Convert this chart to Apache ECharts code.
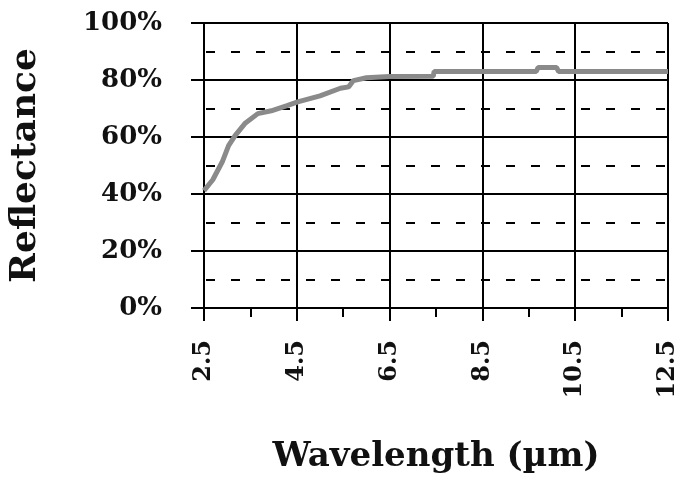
<!DOCTYPE html>
<html><head><meta charset="utf-8">
<script src="https://cdn.jsdelivr.net/npm/echarts@6/dist/echarts.min.js"></script>
<style>html,body{margin:0;padding:0;background:#fff}#c{width:680px;height:479px}</style>
</head><body><div id="c"></div>
<script>
// Wavelength (µm) and reflectance (%)
const wavelength = [2.5, 2.69, 2.9, 3.03, 3.17, 3.38, 3.66, 3.95, 4.29, 4.52, 5.0, 5.44, 5.62, 5.72, 6.0, 6.5, 7.44, 7.46, 9.66, 9.7, 10.1, 10.14, 12.5];
const reflectance = [41.2, 45, 51.5, 57, 60.5, 64.7, 68.2, 69.2, 71, 72.3, 74.4, 77.1, 77.6, 79.8, 80.8, 81.2, 81.3, 83, 83, 84.4, 84.4, 83, 83];
const xTickStart = 2.5;   // first labelled wavelength
const xTickLabels = ['2.5', '4.5', '6.5', '8.5', '10.5', '12.5'];
const yTickLabels = ['0%', '20%', '40%', '60%', '80%', '100%'];

const seriesData = wavelength.map((w, i) => [w - xTickStart, reflectance[i]]);
const font = 'DejaVu Serif';
const chart = echarts.init(document.getElementById('c'), null, {renderer: 'canvas'});
chart.setOption({
  animation: false,
  grid: {left: 198, right: 6, top: 23, bottom: 167, containLabel: false},
  xAxis: {
    type: 'value', min: 0, max: 10, interval: 2,
    name: 'Wavelength (µm)', nameLocation: 'middle', nameGap: 132,
    nameTextStyle: {fontFamily: font, fontWeight: 'bold', fontSize: 34, color: '#111'},
    axisLine: {show: true, onZero: false, lineStyle: {color: '#000', width: 2}},
    axisTick: {show: true, length: 13, lineStyle: {color: '#000', width: 2}},
    minorTick: {show: true, splitNumber: 2, length: 9, lineStyle: {color: '#000', width: 2}},
    splitLine: {show: true, lineStyle: {color: '#000', width: 2}},
    axisLabel: {rotate: 90, margin: 32, fontFamily: font, fontWeight: 'bold', fontSize: 24, color: '#111',
      formatter: v => xTickLabels[Math.round(v / 2)]}
  },
  yAxis: {
    type: 'value', min: 0, max: 100, interval: 20,
    name: 'Reflectance', nameLocation: 'middle', nameGap: 160,
    nameTextStyle: {fontFamily: font, fontWeight: 'bold', fontSize: 36, color: '#111'},
    axisLine: {show: true, lineStyle: {color: '#000', width: 2}},
    axisTick: {show: true, length: 13, lineStyle: {color: '#000', width: 2}},
    minorTick: {show: false, splitNumber: 2},
    splitLine: {show: true, lineStyle: {color: '#000', width: 2}},
    minorSplitLine: {show: true, lineStyle: {color: '#000', width: 2, type: [9, 16], dashOffset: -2}},
    axisLabel: {margin: 42, fontFamily: font, fontWeight: 'bold', fontSize: 26, color: '#111',
      formatter: v => yTickLabels[Math.round(v / 20)]}
  },
  series: [{
    type: 'line', data: seriesData, showSymbol: false, symbol: 'none',
    lineStyle: {color: '#8a8a8a', width: 5}, z: 5
  }]
});
</script></body></html>
